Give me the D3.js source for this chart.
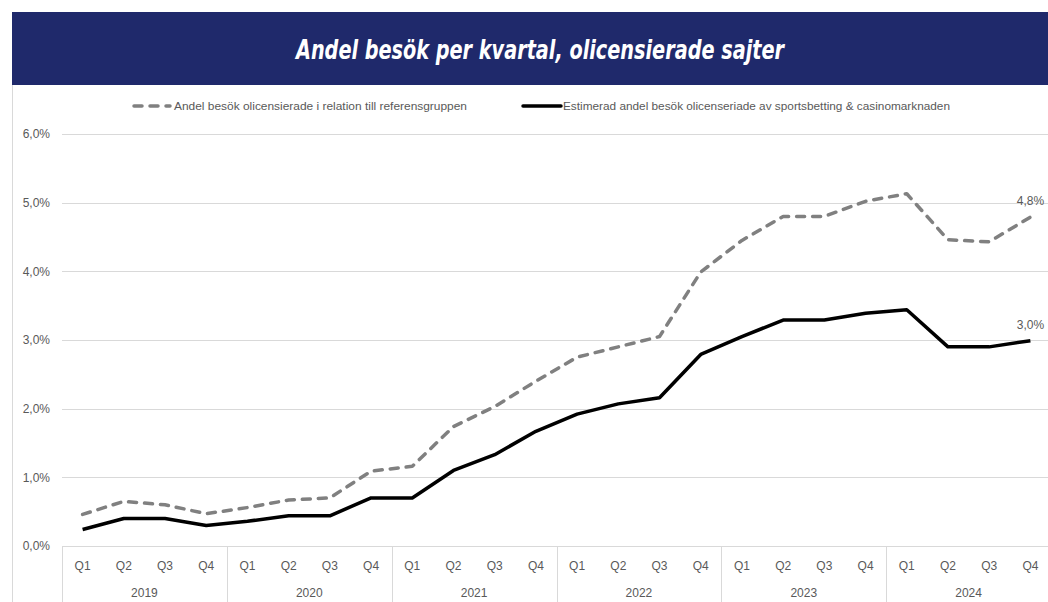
<!DOCTYPE html>
<html lang="sv">
<head>
  <meta charset="utf-8">
  <title>Andel besök per kvartal</title>
  <script src="https://d3js.org/d3.v7.min.js"></script>
  <style>
    body { margin: 0; background: #fff; }
    text { font-family: "Liberation Sans", Arial, sans-serif; fill: #595959; }
    .grid line { stroke: #d9d9d9; stroke-width: 1; shape-rendering: crispEdges; }
  </style>
</head>
<body>
<div id="chart"></div>
<script>
  var years = ['2019', '2020', '2021', '2022', '2023', '2024'];
  var quarters = ['Q1', 'Q2', 'Q3', 'Q4'];
  // andel besök olicensierade i relation till referensgruppen (%)
  var refValues = [0.46, 0.65, 0.60, 0.47, 0.56, 0.67, 0.70, 1.09,
    1.16, 1.74, 2.03, 2.40, 2.75, 2.90, 3.05, 3.99,
    4.45, 4.80, 4.80, 5.02, 5.13, 4.46, 4.43, 4.79];
  // estimerad andel av sportsbetting & casinomarknaden (%)
  var estValues = [0.24, 0.40, 0.40, 0.30, 0.36, 0.44, 0.44, 0.70,
    0.70, 1.10, 1.33, 1.67, 1.92, 2.07, 2.16, 2.79,
    3.05, 3.29, 3.29, 3.39, 3.44, 2.90, 2.90, 2.99];
  var yTicks = [0, 1, 2, 3, 4, 5, 6];
  var seriesNames = ['Andel besök olicensierade i relation till referensgruppen',
    'Estimerad andel besök olicenseriade av sportsbetting & casinomarknaden'];
  var lastLabels = ['4,8%', '3,0%'];

  var W = 1048, H = 602;
  var plot = { left: 62, right: 1051, top: 134, bottom: 546 };

  var cats = [];
  years.forEach(function (y) {
    quarters.forEach(function (q) { cats.push(y + ' ' + q); });
  });

  var svg = d3.select('#chart').append('svg')
    .attr('width', W)
    .attr('height', H);

  // title bar
  svg.append('rect')
    .attr('x', 12).attr('y', 12)
    .attr('width', W - 12).attr('height', 73)
    .attr('fill', '#1f296b');
  svg.append('text')
    .attr('x', 540).attr('y', 59)
    .attr('text-anchor', 'middle')
    .attr('textLength', 488)
    .attr('lengthAdjust', 'spacingAndGlyphs')
    .style('font-family', '"Liberation Sans Narrow", "DejaVu Sans Condensed", sans-serif')
    .style('font-size', '26px')
    .style('font-weight', 'bold')
    .style('font-style', 'italic')
    .style('fill', '#fff')
    .text('Andel besök per kvartal, olicensierade sajter');

  // chart area border
  svg.append('line')
    .attr('x1', 12.5).attr('x2', 12.5)
    .attr('y1', 85).attr('y2', H)
    .attr('stroke', '#d9d9d9');

  var x = d3.scaleBand()
    .domain(cats)
    .range([plot.left, plot.right]);
  var cx = function (i) { return x(cats[i]) + x.bandwidth() / 2; };

  var y = d3.scaleLinear()
    .domain([0, 6])
    .range([plot.bottom, plot.top]);

  // gridlines + y labels
  var yAxis = svg.append('g')
    .attr('class', 'grid')
    .attr('transform', 'translate(' + plot.left + ',0)')
    .call(d3.axisLeft(y)
      .tickValues(yTicks)
      .tickSize(-(W - plot.left))
      .tickPadding(12)
      .tickFormat(function (d) { return d3.format('.1f')(d).replace('.', ',') + '%'; }));
  yAxis.select('.domain').remove();
  yAxis.selectAll('text')
    .style('font-size', '12px')
    .style('fill', '#595959')
    .style('font-family', '"Liberation Sans", Arial, sans-serif');

  // x axis: quarters + years
  svg.append('line')
    .attr('x1', plot.left).attr('x2', W)
    .attr('y1', plot.bottom + 0.5).attr('y2', plot.bottom + 0.5)
    .attr('stroke', '#d9d9d9');

  var xAxis = svg.append('g');
  xAxis.selectAll('text.q')
    .data(cats)
    .enter().append('text')
    .attr('class', 'q')
    .attr('x', function (d, i) { return cx(i); })
    .attr('y', 570)
    .attr('text-anchor', 'middle')
    .style('font-size', '12px')
    .text(function (d) { return d.split(' ')[1]; });

  var yearW = x.bandwidth() * quarters.length;
  xAxis.selectAll('line.sep')
    .data(years.concat(['end']))
    .enter().append('line')
    .attr('class', 'sep')
    .attr('x1', function (d, i) { return Math.round(plot.left + i * yearW) + 0.5; })
    .attr('x2', function (d, i) { return Math.round(plot.left + i * yearW) + 0.5; })
    .attr('y1', plot.bottom)
    .attr('y2', H)
    .attr('stroke', '#d9d9d9');
  xAxis.selectAll('text.yr')
    .data(years)
    .enter().append('text')
    .attr('class', 'yr')
    .attr('x', function (d, i) { return plot.left + (i + 0.5) * yearW; })
    .attr('y', 597)
    .attr('text-anchor', 'middle')
    .style('font-size', '12px')
    .text(function (d) { return d; });

  // lines
  var line = d3.line()
    .x(function (d, i) { return cx(i); })
    .y(function (d) { return y(d); });

  svg.append('path')
    .datum(refValues)
    .attr('d', line)
    .attr('fill', 'none')
    .attr('stroke', '#808080')
    .attr('stroke-width', 3.5)
    .attr('stroke-dasharray', '8 8')
    .attr('stroke-linecap', 'round')
    .attr('stroke-linejoin', 'round');

  svg.append('path')
    .datum(estValues)
    .attr('d', line)
    .attr('fill', 'none')
    .attr('stroke', '#000')
    .attr('stroke-width', 3.5)
    .attr('stroke-linejoin', 'round');

  // end labels
  var lastI = cats.length - 1;
  [refValues, estValues].forEach(function (vals, k) {
    svg.append('text')
      .attr('x', cx(lastI))
      .attr('y', y(vals[lastI]) - 12)
      .attr('text-anchor', 'middle')
      .style('font-size', '12px')
      .text(lastLabels[k]);
  });

  // legend
  var legend = svg.append('g');
  legend.append('line')
    .attr('x1', 134).attr('x2', 170)
    .attr('y1', 106).attr('y2', 106)
    .attr('stroke', '#808080')
    .attr('stroke-width', 3.5)
    .attr('stroke-dasharray', '8 8')
    .attr('stroke-linecap', 'round');
  legend.append('text')
    .attr('x', 174).attr('y', 110)
    .attr('textLength', 293)
    .attr('lengthAdjust', 'spacingAndGlyphs')
    .style('font-size', '11.5px')
    .text(seriesNames[0]);
  legend.append('line')
    .attr('x1', 523).attr('x2', 561)
    .attr('y1', 106).attr('y2', 106)
    .attr('stroke', '#000')
    .attr('stroke-width', 3.5)
    .attr('stroke-linecap', 'round');
  legend.append('text')
    .attr('x', 563).attr('y', 110)
    .attr('textLength', 387)
    .attr('lengthAdjust', 'spacingAndGlyphs')
    .style('font-size', '11.5px')
    .text(seriesNames[1]);
</script>
</body>
</html>
